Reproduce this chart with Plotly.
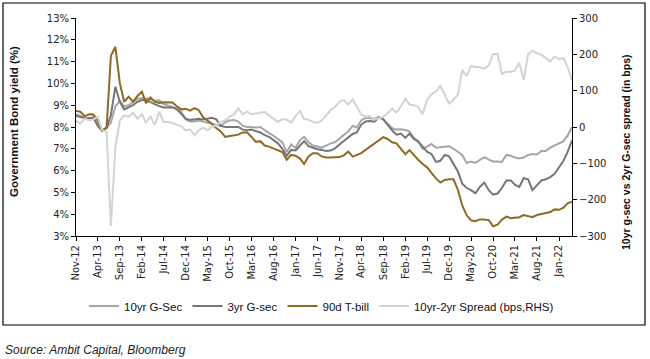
import pandas as pd
import plotly.graph_objects as go

# Monthly dates Nov-2012 .. Apr-2022
dates = pd.date_range("2012-11-01", "2022-04-01", freq="MS")

gsec_10yr = [8.58, 8.52, 8.42, 8.40, 8.42, 8.10, 7.85, 7.95, 8.20, 8.95,
             9.20, 8.95, 9.00, 9.15, 9.30, 9.32, 9.30, 9.30, 9.20, 9.22,
             9.05, 8.98, 8.92, 8.85, 8.70, 8.35, 8.25, 8.25, 8.30, 8.25,
             8.20, 8.18, 8.10, 8.05, 8.22, 8.30, 8.32, 8.25, 8.05, 8.00,
             8.00, 7.98, 8.00, 7.85, 7.72, 7.60, 7.45, 7.30, 6.85, 7.20,
             7.05, 7.40, 7.55, 7.30, 7.15, 7.10, 7.05, 7.15, 7.25, 7.30,
             7.48, 7.65, 7.80, 8.05, 7.98, 8.30, 8.42, 8.40, 8.38, 8.45,
             8.35, 8.15, 7.95, 7.88, 7.90, 7.86, 7.80, 7.50, 7.35, 7.00,
             7.12, 7.22, 7.05, 7.07, 7.12, 7.12, 7.00, 6.85, 6.72, 6.35,
             6.41, 6.36, 6.50, 6.62, 6.50, 6.42, 6.42, 6.40, 6.72, 6.68,
             6.60, 6.56, 6.60, 6.72, 6.76, 6.74, 6.90, 6.90, 7.05, 7.15,
             7.25, 7.35, 7.60, 8.00]

gsec_3yr = [8.52, 8.47, 8.40, 8.40, 8.43, 8.05, 7.82, 7.98, 8.55, 9.85,
            9.15, 8.81, 8.90, 9.00, 9.16, 9.24, 9.24, 9.16, 9.05, 8.96,
            8.90, 8.90, 8.90, 8.81, 8.60, 8.38, 8.32, 8.35, 8.38, 8.35,
            8.40, 8.42, 8.35, 8.05, 8.00, 8.00, 8.00, 8.00, 7.88, 7.85,
            7.88, 7.80, 7.75, 7.63, 7.55, 7.40, 7.25, 7.00, 6.68, 6.95,
            6.92, 7.15, 7.35, 7.12, 7.05, 6.98, 6.95, 6.90, 6.92, 7.02,
            7.20, 7.35, 7.50, 7.68, 7.75, 8.10, 8.25, 8.28, 8.24, 8.44,
            8.35, 8.10, 7.85, 7.65, 7.70, 7.50, 7.70, 7.45, 7.33, 7.10,
            6.87, 6.76, 6.40, 6.45, 6.72, 6.65, 6.30, 5.95, 5.40, 5.20,
            5.10, 4.96, 5.25, 5.45, 5.10, 4.90, 4.95, 5.20, 5.55, 5.55,
            5.35, 5.25, 5.65, 5.60, 5.10, 5.35, 5.55, 5.60, 5.70, 5.85,
            6.15, 6.45, 6.85, 7.38]

tbill_90d = [8.73, 8.70, 8.50, 8.58, 8.57, 8.30, 7.82, 7.98, 11.26, 11.68,
             10.00, 9.16, 9.39, 9.16, 9.42, 9.62, 9.09, 9.35, 9.16, 9.10,
             9.13, 9.13, 9.12, 8.95, 8.81, 8.84, 8.75, 8.87, 8.78, 8.45,
             8.30, 8.15, 7.95, 7.80, 7.55, 7.58, 7.62, 7.65, 7.75, 7.75,
             7.55, 7.32, 7.35, 7.15, 7.10, 7.02, 6.95, 6.85, 6.50, 6.72,
             6.68, 6.55, 6.30, 6.65, 6.80, 6.80, 6.65, 6.60, 6.60, 6.62,
             6.62, 6.70, 6.87, 6.64, 6.72, 6.80, 6.95, 7.10, 7.25, 7.40,
             7.53, 7.45, 7.30, 7.25, 7.02, 6.75, 6.94, 6.70, 6.50, 6.30,
             6.15, 5.90, 5.64, 5.45, 5.57, 5.60, 5.60, 5.10, 4.40, 3.95,
             3.72, 3.68, 3.76, 3.76, 3.73, 3.45, 3.52, 3.75, 3.89, 3.82,
             3.84, 3.86, 3.96, 3.92, 3.86, 3.96, 4.00, 4.04, 4.10, 4.22,
             4.20, 4.30, 4.50, 4.57]

spread_bps = [18, 9, 23, 18, 21, 28, -9, -14, -272, -55,
              18, 32, 28, 39, 23, 35, 11, 30, 5, 42,
              14, 14, 11, 7, 2, -9, -7, -23, -9, -2,
              -9, 0, 5, 14, 18, 28, 35, 51, 35, 42,
              35, 37, 40, 42, 32, 23, 14, 22, 20, 12,
              30, 44, 22, 20, 14, 11, 18, 32, 46, 55,
              70, 74, 62, 76, 58, 35, 28, 30, 20, 25,
              28, 38, 51, 40, 57, 78, 62, 60, 55, 35,
              75, 90, 98, 113, 90, 65, 75, 90, 157, 140,
              168, 165, 165, 160, 170, 201, 201, 146, 152, 152,
              155, 177, 129, 201, 210, 203, 199, 190, 180, 194,
              187, 190, 165, 129]

tick_labels = ["Nov-12", "Apr-13", "Sep-13", "Feb-14", "Jul-14", "Dec-14",
               "May-15", "Oct-15", "Mar-16", "Aug-16", "Jan-17", "Jun-17",
               "Nov-17", "Apr-18", "Sep-18", "Feb-19", "Jul-19", "Dec-19",
               "May-20", "Oct-20", "Mar-21", "Aug-21", "Jan-22"]
tick_vals = [pd.to_datetime("01-" + t, format="%d-%b-%y") for t in tick_labels]

left_ticks = [3, 4, 5, 6, 7, 8, 9, 10, 11, 12, 13]
right_ticks = [-300, -200, -100, 0, 100, 200, 300]

fig = go.Figure()
fig.add_trace(go.Scatter(x=dates, y=gsec_10yr, name="10yr G-Sec", mode="lines",
                         line=dict(color="#a6a6a6", width=2)))
fig.add_trace(go.Scatter(x=dates, y=gsec_3yr, name="3yr G-sec", mode="lines",
                         line=dict(color="#767676", width=2)))
fig.add_trace(go.Scatter(x=dates, y=tbill_90d, name="90d T-bill", mode="lines",
                         line=dict(color="#8e6a24", width=2)))
fig.add_trace(go.Scatter(x=dates, y=spread_bps, name="10yr-2yr Spread (bps,RHS)",
                         mode="lines", yaxis="y2",
                         line=dict(color="#d3d3d3", width=2)))

tick_font = dict(family="DejaVu Sans", size=10, color="#222222")

PL, PR, PT, PB = 76, 572, 18, 236
PW, PH = PR - PL, PB - PT

def px(x):
    return (x - PL) / PW

def py(y):
    return (PB - y) / PH

fig.update_layout(
    width=650, height=359,
    margin=dict(l=PL, r=650 - PR, t=PT, b=359 - PB, autoexpand=False),
    paper_bgcolor="white", plot_bgcolor="white",
    showlegend=True,
    legend=dict(orientation="h", x=px(84), xanchor="left", y=py(306), yanchor="middle",
                font=dict(family="Liberation Sans", size=11.5, color="#111111"),
                itemwidth=30, tracegroupgap=0, bgcolor="rgba(0,0,0,0)"),
    xaxis=dict(type="date", range=[dates[0], dates[-1]], automargin=False,
               tickvals=tick_vals, ticktext=tick_labels, tickangle=-90,
               tickfont=tick_font, showgrid=False, zeroline=False,
               showline=True, linecolor="black", linewidth=1,
               ticks="outside", ticklen=4, tickcolor="black"),
    yaxis=dict(range=[3, 13], tickvals=left_ticks, automargin=False,
               ticktext=[f"{v}%" for v in left_ticks],
               tickfont=tick_font, showgrid=False, zeroline=False,
               showline=True, linecolor="black", linewidth=1,
               ticks="outside", ticklen=4, tickcolor="black"),
    yaxis2=dict(range=[-300, 300], tickvals=right_ticks, overlaying="y", side="right",
                automargin=False,
                tickfont=tick_font, showgrid=False, zeroline=False,
                showline=True, linecolor="black", linewidth=1,
                ticks="outside", ticklen=4, tickcolor="black"),
    shapes=[dict(type="rect", xref="paper", yref="paper",
                 x0=px(3), x1=px(645), y0=py(325), y1=py(3),
                 line=dict(color="black", width=1.2), fillcolor="rgba(0,0,0,0)",
                 layer="below")],
    annotations=[
        dict(text="<b>Government Bond yield (%)</b>", xref="paper", yref="paper",
             x=px(14), y=py(122), textangle=-90, showarrow=False,
             xanchor="center", yanchor="middle",
             font=dict(family="Liberation Sans", size=11.5, color="#111111")),
        dict(text="<b>10yr g-sec vs 2yr G-sec spread (in bps)</b>", xref="paper",
             yref="paper", x=px(626), y=py(152), textangle=-90, showarrow=False,
             xanchor="center", yanchor="middle",
             font=dict(family="Liberation Sans", size=10.5, color="#111111")),
        dict(text="<i>Source: Ambit Capital, Bloomberg</i>",
             xref="paper", yref="paper", x=px(3), y=py(350),
             xanchor="left", yanchor="middle", showarrow=False,
             font=dict(family="Liberation Sans", size=12, color="#222222")),
    ],
    hovermode=False,
)

fig.write_html("out.html", config={"displayModeBar": False},
               post_script="document.body.style.margin='0px';"
                           "document.body.style.overflow='hidden';")
